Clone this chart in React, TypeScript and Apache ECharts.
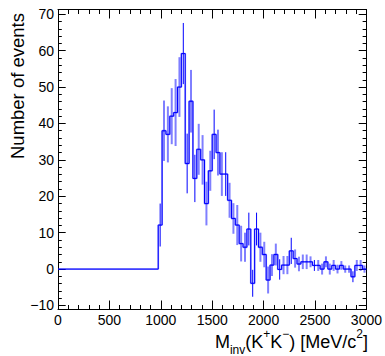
import React, { useEffect, useRef } from 'react';
import * as echarts from 'echarts';

// Histogram binning (MeV): 80 bins of 37.5 from 0 to 3000; bins below 975 are empty
const BIN_WIDTH = 37.5;
const FIRST_BIN_LOW = 975;

// Bin contents from 975 MeV upward
const counts = [
  12.1, 38.0, 37.0, 42.0, 43.0, 50.0, 59.2, 29.0, 46.1, 24.9,
  32.9, 30.0, 18.0, 27.0, 37.0, 32.0, 26.1, 26.1, 18.9, 13.9,
  12.1, 7.0, 6.0, 11.0, -3.9, 11.0, 6.0, 4.0, -3.0, 1.1,
  4.0, -0.1, 1.1, 1.1, 5.0, 2.9, 1.4, 2.0, 2.0, 2.0,
  1.0, 1.0, 0.0, 2.0, 0.0, 1.0, 0.0, 1.0, 0.0, 0.0,
  -2.1, 1.0, 1.0, 0.0,
];

// Error half-widths drawn as dark thin bars (0 = none)
const darkErr = [
  5.9, 0, 0, 0, 0, 0, 8.4, 8.2, 8.6, 6.5,
  0, 0, 0, 0, 6.8, 6.3, 0, 6.0, 0, 0,
  0, 0, 0, 4.5, 3.7, 4.5, 0, 0, 0, 0,
  0, 2.8, 0, 0, 3.6, 0, 0, 0, 0, 0,
  1.5, 0, 0, 0, 0, 0, 0, 0, 0, 0,
  1.5, 0, 0, 0,
];

// Error half-widths drawn as light wide bars (0 = none)
const lightErr = [
  0, 8.3, 7.7, 7.7, 9.2, 8.2, 0, 0, 0, 0,
  7.0, 6.8, 6.0, 5.5, 0, 0, 6.0, 0, 4.8, 4.2,
  5.5, 4.9, 4.0, 0, 0, 0, 4.0, 3.5, 3.7, 3.0,
  3.0, 0, 2.5, 2.5, 0, 2.5, 2.0, 2.0, 2.0, 1.5,
  0, 1.5, 1.5, 1.5, 1.5, 1.5, 1.2, 1.2, 1.0, 1.0,
  0, 1.5, 1.5, 1.0,
];

const yMajorTicks = [-10, 0, 10, 20, 30, 40, 50, 60, 70];
const yMinorTicks = [
  -10, -8, -6, -4, -2, 0, 2, 4, 6, 8, 10, 12, 14, 16, 18, 20, 22, 24, 26, 28,
  30, 32, 34, 36, 38, 40, 42, 44, 46, 48, 50, 52, 54, 56, 58, 60, 62, 64, 66, 68, 70,
];

const FONT = "'Liberation Sans', Arial, Helvetica, sans-serif";

export default function App() {
  const ref = useRef<HTMLDivElement>(null);

  useEffect(() => {
    if (!ref.current) return;
    const chart = echarts.init(ref.current, null, { renderer: 'svg' });

    const centers = counts.map((_, i) => FIRST_BIN_LOW + (i + 0.5) * BIN_WIDTH);
    const stepData: number[][] = [[0, 0]];
    counts.forEach((c, i) => stepData.push([FIRST_BIN_LOW + i * BIN_WIDTH, c]));
    stepData.push([FIRST_BIN_LOW + counts.length * BIN_WIDTH, counts[counts.length - 1]]);

    const darkBars = counts
      .map((c, i) => [centers[i], c, darkErr[i]])
      .filter((d) => d[2] > 0);
    const lightBars = counts
      .map((c, i) => [centers[i], c, lightErr[i]])
      .filter((d) => d[2] > 0);

    const errRender = (color: string, width: number) => (params: any, api: any) => {
      const x = api.value(0);
      const v = api.value(1);
      const e = api.value(2);
      const p1 = api.coord([x, v - e]);
      const p2 = api.coord([x, v + e]);
      return {
        type: 'line',
        shape: { x1: p1[0], y1: p1[1], x2: p2[0], y2: p2[1] },
        style: { stroke: color, lineWidth: width },
      };
    };

    const yMin = -11.1;
    const yMax = 71.3;
    const fmt = (v: number) => (v < 0 ? '\u2212' + Math.abs(v) : String(v));

    const xBase = {
      type: 'value',
      min: 0,
      max: 3000,
      interval: 500,
      splitLine: { show: false },
      axisLine: { show: true, onZero: false, lineStyle: { color: '#000', width: 1 } },
      axisTick: { show: true, inside: true, length: 9, lineStyle: { color: '#000', width: 1 } },
      minorTick: { show: true, splitNumber: 5, length: 4.5, lineStyle: { color: '#000', width: 1 } },
    };
    const yBase = {
      type: 'value',
      min: yMin,
      max: yMax,
      splitLine: { show: false },
      axisLine: { show: true, onZero: false, lineStyle: { color: '#000', width: 1 } },
    };

    chart.setOption({
      animation: false,
      backgroundColor: '#fff',
      grid: { left: 58, right: 18, top: 9.5, bottom: 46.5, containLabel: false },
      xAxis: [
        {
          ...xBase,
          position: 'bottom',
          axisLabel: {
            show: true,
            color: '#000',
            fontSize: 14,
            fontFamily: FONT,
            margin: 3,
            formatter: (v: number) => String(v),
          },
        },
        {
          ...xBase,
          position: 'top',
          axisLabel: { show: false },
        },
      ],
      yAxis: [
        {
          ...yBase,
          position: 'left',
          axisTick: { show: true, inside: true, length: 7.7, customValues: yMajorTicks, lineStyle: { color: '#000' } },
          axisLabel: { show: true, customValues: yMajorTicks, formatter: fmt, color: '#000', fontSize: 14, fontFamily: FONT, margin: 4 },
        },
        {
          ...yBase,
          position: 'left',
          axisTick: { show: true, inside: true, length: 3.8, customValues: yMinorTicks, lineStyle: { color: '#000' } },
          axisLabel: { show: false },
        },
        {
          ...yBase,
          position: 'right',
          axisTick: { show: true, inside: true, length: 7.7, customValues: yMajorTicks, lineStyle: { color: '#000' } },
          axisLabel: { show: false },
        },
        {
          ...yBase,
          position: 'right',
          axisTick: { show: true, inside: true, length: 3.8, customValues: yMinorTicks, lineStyle: { color: '#000' } },
          axisLabel: { show: false },
        },
      ],
      series: [
        {
          type: 'line',
          step: 'end',
          data: stepData,
          showSymbol: false,
          symbol: 'none',
          lineStyle: { color: 'rgba(0,0,255,0.4)', width: 1.8 },
          z: 2,
        },
        {
          type: 'custom',
          data: lightBars,
          renderItem: errRender('rgba(0,0,255,0.5)', 2),
          z: 3,
        },
        {
          type: 'line',
          step: 'end',
          data: stepData,
          showSymbol: false,
          symbol: 'none',
          lineStyle: { color: '#0000ff', width: 1 },
          z: 4,
        },
        {
          type: 'custom',
          data: darkBars,
          renderItem: errRender('#0000ff', 1),
          z: 5,
        },
      ],
      graphic: [
        {
          type: 'text',
          x: 17,
          y: 13,
          rotation: Math.PI / 2,
          style: {
            text: 'Number of events',
            align: 'right',
            verticalAlign: 'middle',
            fontSize: 18.5,
            fontFamily: FONT,
            fill: '#000',
          },
        },
        {
          type: 'text',
          x: 368,
          y: 342,
          style: {
            text: 'M{sub|inv}(K{sup|+}K{sup|\u2212}) [MeV/c{sup|2}]',
            align: 'right',
            verticalAlign: 'middle',
            fontSize: 18,
            fontFamily: FONT,
            fill: '#000',
            lineHeight: 28,
            rich: {
              sub: { fontSize: 12, fontFamily: FONT, fill: '#000', verticalAlign: 'bottom', lineHeight: 12 },
              sup: { fontSize: 12, fontFamily: FONT, fill: '#000', verticalAlign: 'top', lineHeight: 12 },
            },
          },
        },
      ],
    });

    return () => chart.dispose();
  }, []);

  return (
    <div
      ref={ref}
      style={{ position: 'fixed', left: 0, top: 0, width: 385, height: 356 }}
    />
  );
}
